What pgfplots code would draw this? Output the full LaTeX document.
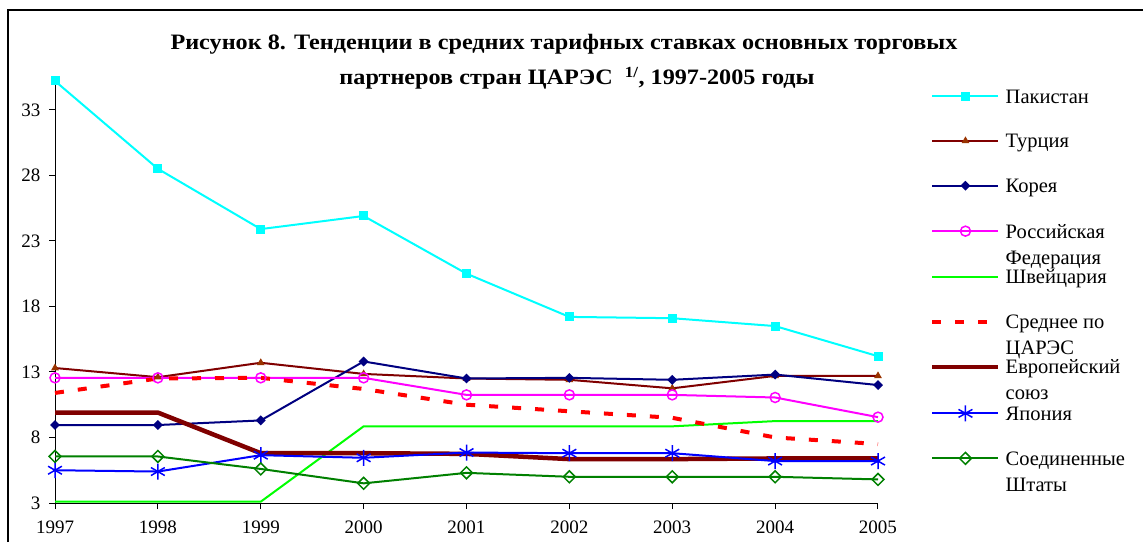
\documentclass[border=0pt]{standalone}
\usepackage{fontspec}
\setmainfont{Liberation Serif}
\usepackage{pgfplots}
\pgfplotsset{compat=1.18}
\definecolor{cPak}{RGB}{0,255,255}
\definecolor{cTur}{RGB}{128,0,0}
\definecolor{cTurM}{RGB}{153,51,0}
\definecolor{cKor}{RGB}{0,0,128}
\definecolor{cRus}{RGB}{255,0,255}
\definecolor{cSwi}{RGB}{0,255,0}
\definecolor{cAvg}{RGB}{255,0,0}
\definecolor{cEU}{RGB}{128,0,0}
\definecolor{cJap}{RGB}{0,0,255}
\definecolor{cUSA}{RGB}{0,128,0}
\newcommand{\lt}[1]{\parbox[t]{130pt}{\raggedright #1}}
\begin{document}
\begin{tikzpicture}[x=1pt,y=1pt]
\useasboundingbox (0,0) rectangle (1143,542);
\draw[line width=1.5pt] (8,0) -- (8,532) -- (1143,532);
\node[font=\bfseries\fontsize{22}{26}\selectfont, anchor=base, inner sep=0pt, xscale=1.1] at (564,492) {Рисунок 8. Тенденции в средних тарифных ставках основных торговых};
\node[font=\bfseries\fontsize{22}{26}\selectfont, anchor=base, inner sep=0pt, xscale=1.1] at (577,457) {партнеров стран ЦАРЭС\ \ \textsuperscript{1/}, 1997-2005 годы};
\begin{axis}[
  at={(55pt,39pt)}, anchor=south west,
  scale only axis, width=823pt, height=422pt,
  xmin=1997, xmax=2005, ymin=3, ymax=35.2,
  axis lines*=left,
  axis line style={black, line width=1pt},
  xtick={1997,1998,...,2005}, ytick={3,8,...,33},
  tick align=outside, major tick length=6pt,
  tick style={black, line width=1pt},
  /pgf/number format/assume math mode=true,
  /pgf/number format/set thousands separator={},
  tick label style={font=\fontsize{19}{21}\selectfont},
  x tick label style={yshift=-8pt},
  y tick label style={xshift=-5pt},
  clip=false,
  legend image code/.code={\draw[mark repeat=2,mark phase=2] plot coordinates {(0pt,7pt) (33pt,7pt) (66pt,7pt)};},
  legend style={at={(1.0632,0.980)}, anchor=north west, draw=none, fill=none,
    inner sep=0pt, row sep=29.9pt, column sep=5pt,
    font=\fontsize{20.5}{26}\selectfont,
    nodes={inner sep=0pt},
    cells={anchor=base west, inner sep=0pt}},
]
\addplot[color=cPak, line width=2pt, mark=square*, mark size=3.5pt, mark options={solid, fill=cPak}]
  coordinates {(1997,35.2) (1998,28.5) (1999,23.9) (2000,24.9) (2001,20.5) (2002,17.2) (2003,17.1) (2004,16.5) (2005,14.2)};
\addlegendentry{Пакистан}
\addplot[color=cTur, line width=2pt, mark=triangle*, mark size=3.5pt, mark options={solid, fill=cTurM, draw=cTurM, line width=1pt}]
  coordinates {(1997,13.3) (1998,12.6) (1999,13.7) (2000,12.85) (2001,12.5) (2002,12.4) (2003,11.75) (2004,12.7) (2005,12.7)};
\addlegendentry{Турция}
\addplot[color=cKor, line width=2pt, mark=square*, mark size=2.5pt, mark options={solid, fill=cKor, rotate=45}]
  coordinates {(1997,8.95) (1998,8.95) (1999,9.3) (2000,13.8) (2001,12.5) (2002,12.55) (2003,12.4) (2004,12.8) (2005,12.0)};
\addlegendentry{Корея}
\addplot[color=cRus, line width=2pt, mark=o, mark size=5pt, mark options={solid, fill=white, line width=1.5pt}]
  coordinates {(1997,12.55) (1998,12.55) (1999,12.55) (2000,12.55) (2001,11.25) (2002,11.25) (2003,11.25) (2004,11.05) (2005,9.55)};
\addlegendentry{\lt{Российская\\Федерация}}
\addplot[color=cSwi, line width=2pt, mark=none]
  coordinates {(1997,3.1) (1998,3.1) (1999,3.1) (2000,8.85) (2001,8.85) (2002,8.85) (2003,8.85) (2004,9.25) (2005,9.25)};
\addlegendentry{Швейцария}
\addplot[color=cAvg, line width=4pt, mark=none, dash pattern=on 9pt off 14pt]
  coordinates {(1997,11.4) (1998,12.5) (1999,12.55) (2000,11.7) (2001,10.5) (2002,10.0) (2003,9.5) (2004,8.0) (2005,7.5)};
\addlegendentry{\lt{Среднее по\\ЦАРЭС}}
\addplot[color=cEU, line width=4.5pt, mark=none]
  coordinates {(1997,9.9) (1998,9.9) (1999,6.8) (2000,6.8) (2001,6.75) (2002,6.35) (2003,6.35) (2004,6.4) (2005,6.4)};
\addlegendentry{\lt{Европейский\\союз}}
\addplot[color=cJap, line width=2pt, mark=asterisk, mark size=8pt, mark options={solid, line width=1.5pt}]
  coordinates {(1997,5.5) (1998,5.4) (1999,6.65) (2000,6.45) (2001,6.85) (2002,6.8) (2003,6.8) (2004,6.2) (2005,6.2)};
\addlegendentry{Япония}
\addplot[color=cUSA, line width=2pt, mark=square, mark size=4.2pt, mark options={solid, rotate=45, fill=white, line width=1.5pt}]
  coordinates {(1997,6.55) (1998,6.55) (1999,5.6) (2000,4.5) (2001,5.3) (2002,5.0) (2003,5.0) (2004,5.0) (2005,4.8)};
\addlegendentry{\lt{Соединенные\\Штаты}}
\end{axis}
\end{tikzpicture}
\end{document}
